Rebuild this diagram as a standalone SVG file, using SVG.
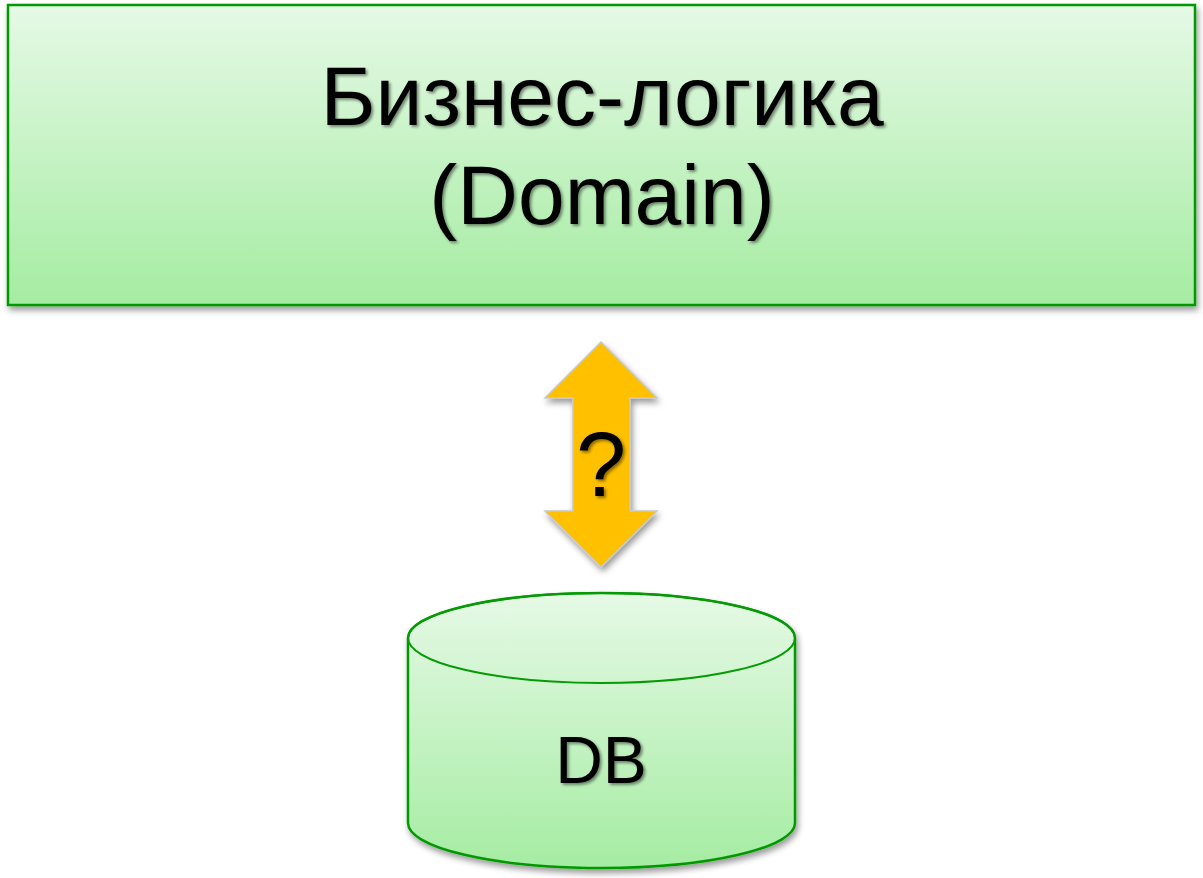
<svg xmlns="http://www.w3.org/2000/svg" width="1203" height="878" viewBox="0 0 1203 878">
<defs>
<linearGradient id="g" x1="0" y1="0" x2="0" y2="1">
<stop offset="0" stop-color="#e6f9e6"/>
<stop offset="1" stop-color="#a5eca2"/>
</linearGradient>
<filter id="sh" x="-10%" y="-10%" width="120%" height="130%">
<feGaussianBlur in="SourceAlpha" stdDeviation="3"/>
<feOffset dx="2" dy="4" result="b"/>
<feComponentTransfer><feFuncA type="linear" slope="0.4"/></feComponentTransfer>
<feMerge><feMergeNode/><feMergeNode in="SourceGraphic"/></feMerge>
</filter>
<filter id="tsh" x="-10%" y="-10%" width="120%" height="130%">
<feGaussianBlur in="SourceAlpha" stdDeviation="1.5"/>
<feOffset dx="2" dy="2"/>
<feComponentTransfer><feFuncA type="linear" slope="0.45"/></feComponentTransfer>
<feMerge><feMergeNode/><feMergeNode in="SourceGraphic"/></feMerge>
</filter>
</defs>
<style>
.box{fill:url(#g);stroke:#069a06;stroke-width:2.5}
.t{font-family:"Liberation Sans",Arial,sans-serif;fill:#000;text-anchor:middle}
</style>
<rect width="1203" height="878" fill="#fff"/>
<g id="domain">
<rect class="box" x="8" y="5" width="1187" height="300" filter="url(#sh)"/>
<text class="t" x="602" y="125" font-size="84" filter="url(#tsh)">Бизнес-логика</text>
<text class="t" x="602" y="224" font-size="84" filter="url(#tsh)">(Domain)</text>
</g>
<g id="connectors">
<path d="M601,342 L657,398 L630,398 L630,511 L657,511 L601,567 L545,511 L573,511 L573,398 L545,398 Z" fill="#ffc000" stroke="#c8c8c8" stroke-width="1.5" filter="url(#sh)"/>
<text class="t" x="601" y="496" font-size="90" filter="url(#tsh)">?</text>
</g>
<g id="db">
<path class="box" d="M408,638 L408,823 A193.5,45 0 0 0 795,823 L795,638 A193.5,45 0 0 0 408,638 Z" filter="url(#sh)"/>
<ellipse cx="601.5" cy="638" rx="193.5" ry="45" fill="none" stroke="#069a06" stroke-width="2"/>
<text class="t" x="601" y="783" font-size="66" filter="url(#tsh)">DB</text>
</g>
</svg>
